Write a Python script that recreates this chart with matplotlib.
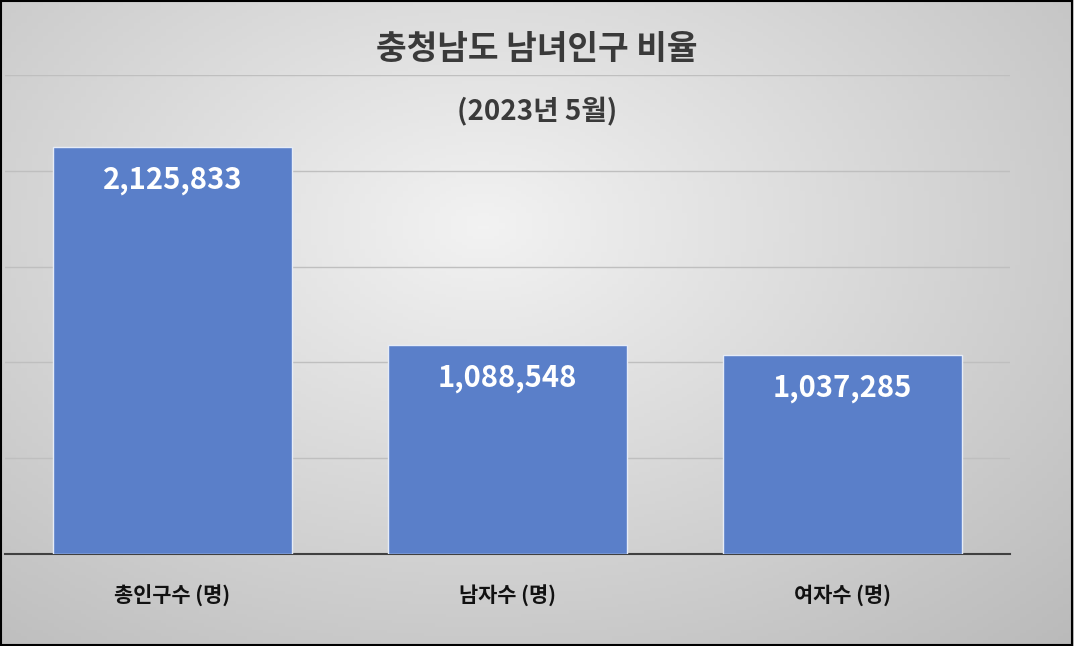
import matplotlib
matplotlib.use("Agg")
import matplotlib.pyplot as plt
from matplotlib import font_manager as fm
import numpy as np

categories = ["총인구수 (명)", "남자수 (명)", "여자수 (명)"]
values = [2125833, 1088548, 1037285]
yticks = [0, 500000, 1000000, 1500000, 2000000, 2500000]

fam = None
for f in fm.fontManager.ttflist:
    if "CJK" in f.name and ("KR" in f.name or "Korean" in f.name):
        fam = f.name; break
if fam is None:
    for f in fm.fontManager.ttflist:
        if "CJK" in f.name:
            fam = f.name; break
if fam is None:
    for p in fm.findSystemFonts():
        if "CJK" in p:
            fm.fontManager.addfont(p)
            fam = fm.FontProperties(fname=p).get_name(); break
plt.rcParams["font.family"] = [fam or "Noto Sans CJK KR", "DejaVu Sans"]

W, H = 1074, 646
fig = plt.figure(figsize=(W/100, H/100), dpi=100)

bg = fig.add_axes([0, 0, 1, 1], zorder=-10)
yy, xx = np.mgrid[0:1:200j, 0:1:200j]
r = np.sqrt((xx-0.45)**2 + ((yy-0.35)*0.9)**2)
g = 0.95 - 0.22*np.clip(r/0.8, 0, 1)
bg.imshow(np.dstack([g, g, g]), extent=[0, 1, 0, 1], aspect="auto")
bg.set_axis_off()
bg.add_patch(plt.Rectangle((0.001, 0.002), 0.997, 0.996, fill=False, ec="black", lw=1.5, transform=bg.transAxes))

ax = fig.add_axes([5/W, 1-554/H, (1010-5)/W, (554-75)/H])
ax.patch.set_alpha(0)
x = np.arange(len(categories))
bars = ax.bar(x, values, width=0.716, color="#5A7FC9", edgecolor="#E6ECF7", linewidth=1, zorder=3)
ax.set_xlim(-0.5, 2.5)
ax.set_ylim(0, 2500000)
ax.set_yticks(yticks)
ax.yaxis.grid(True, color="#BFBFBF", lw=1, zorder=0)
ax.tick_params(axis="y", length=0, labelleft=False)
ax.tick_params(axis="x", length=0, pad=22)
ax.set_xticks(x)
ax.set_xticklabels(categories, fontsize=15, fontweight="bold", color="#111111")
for s in ["top", "left", "right"]:
    ax.spines[s].set_visible(False)
ax.spines["bottom"].set_color("#404040")
ax.spines["bottom"].set_linewidth(1.5)
for b, v in zip(bars, values):
    ax.annotate(f"{v:,}", (b.get_x()+b.get_width()/2, v), xytext=(0, -13), textcoords="offset points",
                ha="center", va="top", color="white", fontsize=21, fontweight="bold", zorder=4)

fig.text(0.5, 1-50/H, "충청남도 남녀인구 비율", ha="center", va="center", fontsize=24, fontweight="bold", color="#3A3A3A")
fig.text(0.5, 1-112/H, "(2023년 5월)", ha="center", va="center", fontsize=20, fontweight="bold", color="#3A3A3A")
fig.savefig("out.png", dpi=100)
